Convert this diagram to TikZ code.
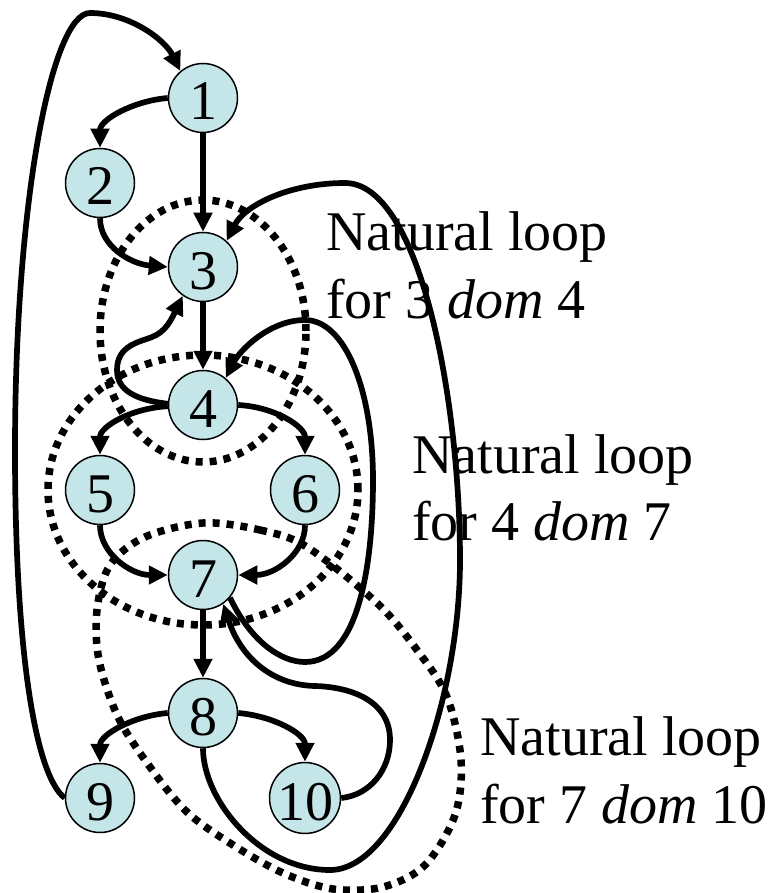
\documentclass[tikz,border=0pt]{standalone}
\usepackage{fontspec}
\setmainfont{Liberation Serif}
\usetikzlibrary{arrows.meta}
\definecolor{nodefill}{RGB}{197,230,232}
\begin{document}
\begin{tikzpicture}[x=1pt,y=-1pt,
  vtx/.style={circle, draw=black, line width=1.5pt, fill=nodefill, minimum size=69pt, inner sep=0pt,
    text height=44pt, text depth=0pt, font=\fontsize{56}{60}\selectfont},
  flow/.style={line width=5.7pt, -{Triangle[length=19pt,width=18pt]}},
  loopline/.style={line width=7.5pt, dash pattern=on 7pt off 7pt},
  lab/.style={anchor=base west, inner sep=0pt, font=\fontsize{56}{68}\selectfont}]
\useasboundingbox (0,0) rectangle (777,893);

% nodes
\node[vtx] (n1) at (203,98) {1};
\node[vtx] (n2) at (100,183) {2};
\node[vtx] (n3) at (203,267) {3};
\node[vtx] (n4) at (203,405) {4};
\node[vtx] (n5) at (100,490) {5};
\node[vtx] (n6) at (305,490) {6};
\node[vtx] (n7) at (203,575) {7};
\node[vtx] (n8) at (203,713) {8};
\node[vtx] (n9) at (100,798) {9};
\node[vtx] (n10) at (305,798) {10};

% labels
\node[lab] (t1a) at (326,250) {Natural loop};
\node[lab] (t1b) at (326,318) {for 3 \textit{dom} 4};
\node[lab] (t2a) at (412,473) {Natural loop};
\node[lab] (t2b) at (412,540) {for 4 \textit{dom} 7};
\node[lab] (t3a) at (480,755) {Natural loop};
\node[lab] (t3b) at (480,823) {for 7 \textit{dom} 10};

% natural loops
\draw[loopline] (203,331) ellipse [x radius=103pt, y radius=131pt];
\draw[loopline] (203,490) ellipse [x radius=155pt, y radius=135pt];
\draw[loopline] plot[smooth cycle, tension=0.55] coordinates {
  (203,523) (260,530) (307,547) (377,603) (417,650) (447,697) (461,760)
  (455,815) (425,865) (383,887) (333,889) (283,873) (233,845) (187,812)
  (150,767) (118,717) (99,660) (97,610) (110,565) (145,537)};

% forward edges
\draw[flow] (n1) -- (n3);
\draw[flow] (n3) -- (n4);
\draw[flow] (n7) -- (n8);
\draw[flow] (n1.west) .. controls +(-35,3) and +(0,-28) .. (n2.north);
\draw[flow] (n2.south) .. controls +(0,28) and +(-37,-3) .. (n3.west);
\draw[flow] (n4.182) .. controls +(-37,2) and +(0,-28) .. (n5.north);
\draw[flow] (n4.east) .. controls +(37,2) and +(0,-28) .. (n6.north);
\draw[flow] (n5.south) .. controls +(0,28) and +(-37,0) .. (n7.west);
\draw[flow] (n6.south) .. controls +(0,28) and +(37,0) .. (n7.east);
\draw[flow] (n8.west) .. controls +(-35,3) and +(0,-28) .. (n9.north);
\draw[flow] (n8.east) .. controls +(35,3) and +(0,-28) .. (n10.north);

% back edges
\draw[flow] (n4.178) .. controls (135,400) and (117,390) .. (117,370)
  .. controls (117,345) and (140,342) .. (152,337)
  .. controls (166,332) and (172,318) .. (n3.-125);
\draw[flow] (n9.west) .. controls (35,775) and (15,650) .. (15,450)
  .. controls (15,200) and (52,13) .. (90,13)
  .. controls (130,13) and (165,40) .. (n1.130);
\draw[flow] (n8.south) .. controls (203,800) and (260,870) .. (330,870)
  .. controls (400,870) and (460,700) .. (460,560)
  .. controls (460,400) and (420,183) .. (345,183)
  .. controls (290,183) and (245,205) .. (n3.48);
\draw[flow] (n7.-40) .. controls (250,640) and (280,662) .. (305,662)
  .. controls (360,662) and (373,560) .. (373,480)
  .. controls (373,390) and (345,320) .. (305,320)
  .. controls (270,320) and (240,350) .. (n4.50);
\draw[flow] (n10.east) .. controls (370,795) and (390,770) .. (390,740)
  .. controls (390,700) and (350,687) .. (315,686)
  .. controls (270,685) and (240,655) .. (n7.-55);
\end{tikzpicture}
\end{document}
